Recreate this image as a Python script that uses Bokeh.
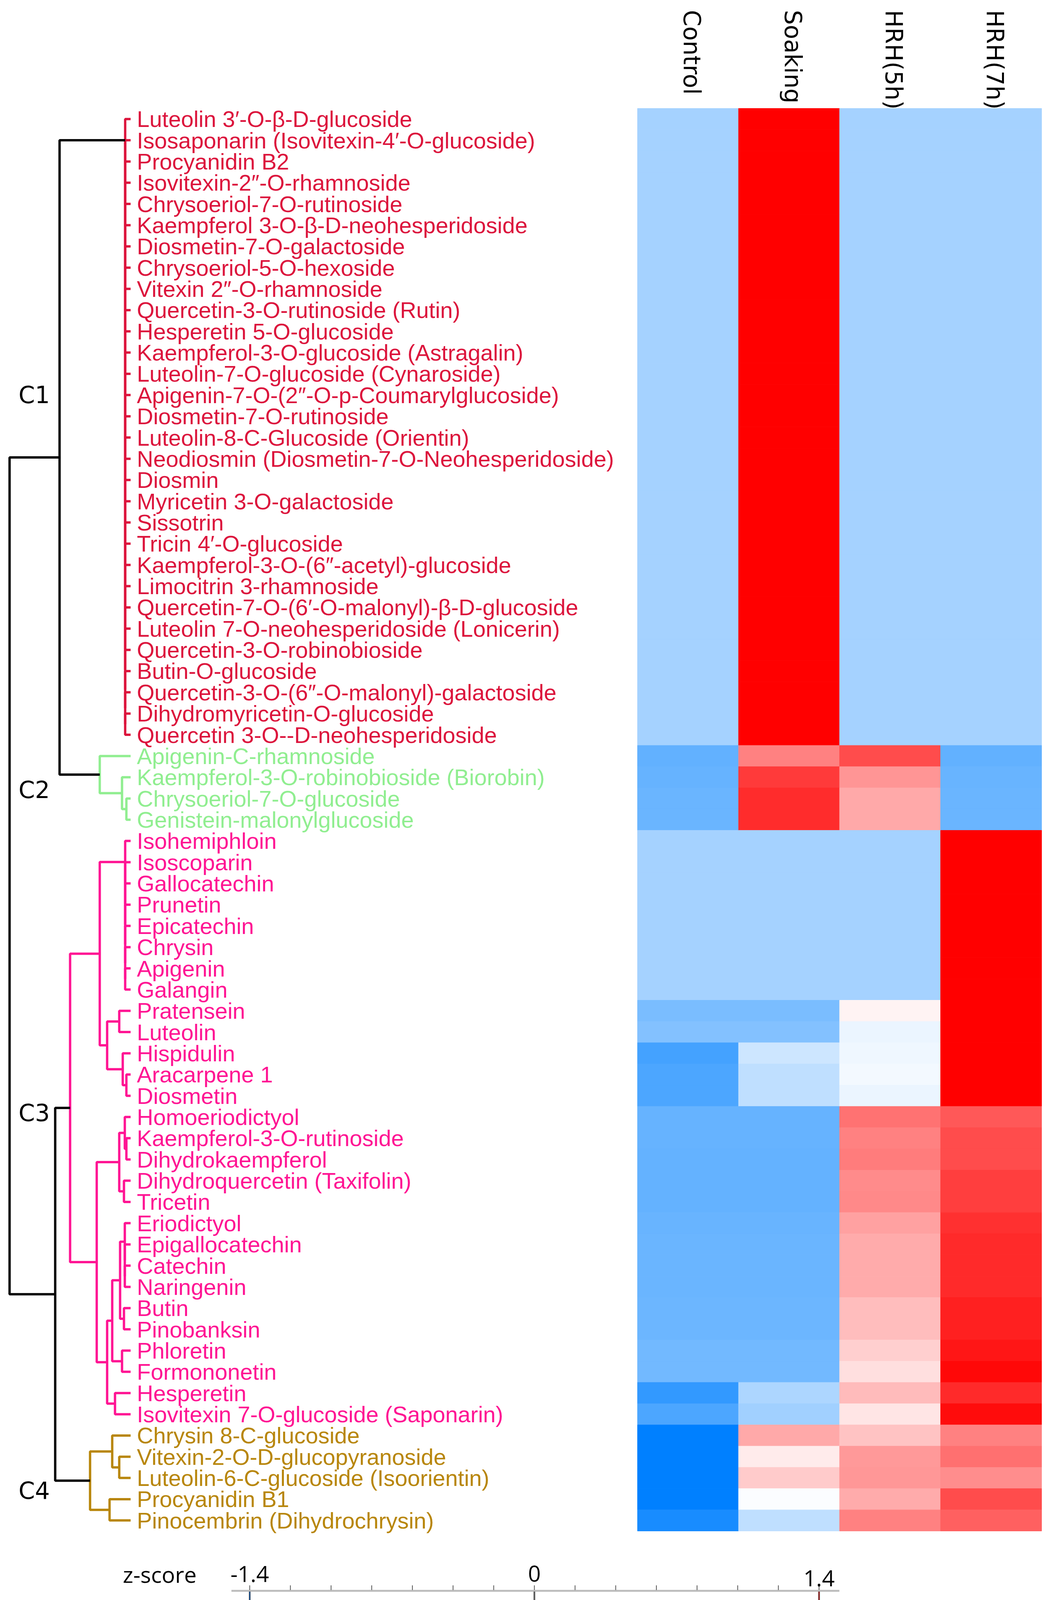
import numpy as np
from bokeh.plotting import figure
from bokeh.models import Range1d, ColumnDataSource, LinearColorMapper
from bokeh.transform import transform
from bokeh.core.properties import value
from bokeh.embed import file_html
from bokeh.resources import INLINE

# ---------------- data ----------------
samples = ["Control", "Soaking", "HRH(5h)", "HRH(7h)"]

compounds = [
    "Luteolin 3\u2032-O-\u03b2-D-glucoside",
    "Isosaponarin (Isovitexin-4\u2032-O-glucoside)",
    "Procyanidin B2",
    "Isovitexin-2\u2033-O-rhamnoside",
    "Chrysoeriol-7-O-rutinoside",
    "Kaempferol 3-O-\u03b2-D-neohesperidoside",
    "Diosmetin-7-O-galactoside",
    "Chrysoeriol-5-O-hexoside",
    "Vitexin 2\u2033-O-rhamnoside",
    "Quercetin-3-O-rutinoside (Rutin)",
    "Hesperetin 5-O-glucoside",
    "Kaempferol-3-O-glucoside (Astragalin)",
    "Luteolin-7-O-glucoside (Cynaroside)",
    "Apigenin-7-O-(2\u2033-O-p-Coumarylglucoside)",
    "Diosmetin-7-O-rutinoside",
    "Luteolin-8-C-Glucoside (Orientin)",
    "Neodiosmin (Diosmetin-7-O-Neohesperidoside)",
    "Diosmin",
    "Myricetin 3-O-galactoside",
    "Sissotrin",
    "Tricin 4\u2032-O-glucoside",
    "Kaempferol-3-O-(6\u2033-acetyl)-glucoside",
    "Limocitrin 3-rhamnoside",
    "Quercetin-7-O-(6\u2032-O-malonyl)-\u03b2-D-glucoside",
    "Luteolin 7-O-neohesperidoside (Lonicerin)",
    "Quercetin-3-O-robinobioside",
    "Butin-O-glucoside",
    "Quercetin-3-O-(6\u2033-O-malonyl)-galactoside",
    "Dihydromyricetin-O-glucoside",
    "Quercetin 3-O--D-neohesperidoside",
    "Apigenin-C-rhamnoside",
    "Kaempferol-3-O-robinobioside (Biorobin)",
    "Chrysoeriol-7-O-glucoside",
    "Genistein-malonylglucoside",
    "Isohemiphloin",
    "Isoscoparin",
    "Gallocatechin",
    "Prunetin",
    "Epicatechin",
    "Chrysin",
    "Apigenin",
    "Galangin",
    "Pratensein",
    "Luteolin",
    "Hispidulin",
    "Aracarpene 1",
    "Diosmetin",
    "Homoeriodictyol",
    "Kaempferol-3-O-rutinoside",
    "Dihydrokaempferol",
    "Dihydroquercetin (Taxifolin)",
    "Tricetin",
    "Eriodictyol",
    "Epigallocatechin",
    "Catechin",
    "Naringenin",
    "Butin",
    "Pinobanksin",
    "Phloretin",
    "Formononetin",
    "Hesperetin",
    "Isovitexin 7-O-glucoside (Saponarin)",
    "Chrysin 8-C-glucoside",
    "Vitexin-2-O-D-glucopyranoside",
    "Luteolin-6-C-glucoside (Isoorientin)",
    "Procyanidin B1",
    "Pinocembrin (Dihydrochrysin)",
]

row_cluster = ["C1"] * 30 + ["C2"] * 4 + ["C3"] * 28 + ["C4"] * 5

z_control = ([-0.50] * 30 +
             [-0.86, -0.84, -0.82, -0.82] +
             [-0.50] * 8 +
             [-0.73, -0.68, -1.02, -0.98, -0.98,
              -0.84, -0.84, -0.85, -0.85, -0.85, -0.83, -0.82, -0.82, -0.82,
              -0.80, -0.80, -0.77, -0.77, -1.12, -0.98] +
             [-1.51, -1.46, -1.49, -1.41, -1.26])
z_soaking = ([1.50] * 30 +
             [0.70, 1.08, 1.15, 1.15] +
             [-0.50] * 8 +
             [-0.73, -0.68, -0.28, -0.36, -0.36,
              -0.84, -0.84, -0.85, -0.85, -0.85, -0.83, -0.82, -0.82, -0.82,
              -0.80, -0.80, -0.77, -0.77, -0.45, -0.52] +
             [0.48, 0.12, 0.29, -0.03, -0.35])
z_hrh5 = ([-0.50] * 30 +
          [0.98, 0.59, 0.48, 0.48] +
          [-0.50] * 8 +
          [0.07, -0.12, -0.09, -0.07, -0.12,
           0.77, 0.70, 0.72, 0.64, 0.65, 0.52, 0.47, 0.47, 0.47,
           0.37, 0.37, 0.27, 0.18, 0.38, 0.15] +
          [0.33, 0.56, 0.57, 0.46, 0.70])
z_hrh7 = ([-0.50] * 30 +
          [-0.86, -0.83, -0.82, -0.82] +
          [1.50] * 8 +
          [1.39, 1.48, 1.39, 1.41, 1.46,
           0.91, 0.98, 0.98, 1.05, 1.05, 1.13, 1.17, 1.17, 1.17,
           1.22, 1.22, 1.27, 1.35, 1.17, 1.33] +
          [0.70, 0.78, 0.63, 0.98, 0.87])

# dendrogram merge heights (root = 1)
H_ROOT, H_C1C2, H_C3C4 = 1.0, 0.587, 0.623
cluster_names = ["C1", "C2", "C3", "C4"]
cluster_colors = ["#DC143C", "#90EE90", "#FF1493", "#B8860B"]

def N(h, a, b):
    return (h, a, b)

def chain(leaves, h):
    t = leaves[-1]
    for lf in reversed(leaves[:-1]):
        t = (h, lf, t)
    return t

cluster_trees = {
    "C1": chain(list(range(0, 30)), 0.045),
    "C2": N(0.255, 30, N(0.071, 31, N(0.035, 32, 33))),
    "C3": N(0.50,
            N(0.255,
              chain(list(range(34, 42)), 0.045),
              N(0.194, N(0.094, 42, 43), N(0.065, 44, N(0.035, 45, 46)))),
            N(0.28,
              N(0.094, N(0.048, 47, N(0.035, 48, 49)), N(0.055, 50, 51)),
              N(0.194,
                N(0.152,
                  N(0.087, chain([52, 53, 54, 55], 0.048), N(0.055, 56, 57)),
                  N(0.071, 58, 59)),
                N(0.129, 60, 61)))),
    "C4": N(0.335, N(0.152, 62, N(0.094, 63, 64)), N(0.174, 65, 66)),
}
top_tree = N(H_ROOT, N(H_C1C2, "C1", "C2"), N(H_C3C4, "C3", "C4"))

cb_ticks = [-1.4, -1.2, -1.0, -0.8, -0.6, -0.4, -0.2, 0.0,
            0.2, 0.4, 0.6, 0.8, 1.0, 1.2, 1.4]
cb_labels = ["-1.4", "0", "1.4"]
cb_label_vals = [-1.4, 0.0, 1.4]

# ---------------- layout constants (reference pixel space) ----------------
W, H = 2696, 4209
HM_LEFT, HM_RIGHT = 1640, 2675
HM_TOP, HM_BOTTOM = 285, 3927
NROW = len(compounds)
ROW_H = (HM_BOTTOM - HM_TOP) / NROW
COL_W = (HM_RIGHT - HM_LEFT) / len(samples)
LEAF_X = 342
DEND_SCALE = 310
LABEL_X = 358
HEADER_DX = 10

def row_y(i):
    return HM_TOP + (i + 0.5) * ROW_H

def col_x(j):
    return HM_LEFT + (j + 0.5) * COL_W

# colour map: blue -> white -> red
def lerp(c1, c2, t):
    return tuple(int(round(a + (b - a) * t)) for a, b in zip(c1, c2))

BLUE, WHITE, RED = (0, 128, 255), (255, 255, 255), (255, 0, 0)
palette = ["#%02x%02x%02x" % lerp(BLUE, WHITE, k / 127) for k in range(128)] + \
          ["#%02x%02x%02x" % lerp(WHITE, RED, k / 127) for k in range(128)]
mapper = LinearColorMapper(palette=palette, low=-1.4, high=1.4)

p = figure(width=W, height=H, x_range=Range1d(8, 8 + W), y_range=Range1d(8 + H, 8),
           output_backend="svg", toolbar_location=None,
           x_axis_location=None, y_axis_location=None, min_border=0,
           background_fill_color="white", border_fill_color="white")
p.outline_line_color = None
p.grid.grid_line_color = None

# ---------------- heatmap ----------------
zcols = [z_control, z_soaking, z_hrh5, z_hrh7]
hx, hy, hz = [], [], []
for j, zc in enumerate(zcols):
    for i, zv in enumerate(zc):
        hx.append(col_x(j)); hy.append(row_y(i)); hz.append(zv)
hsrc = ColumnDataSource(dict(x=hx, y=hy, z=hz))
p.rect(x="x", y="y", width=COL_W, height=ROW_H, source=hsrc,
       fill_color=transform("z", mapper), line_color=transform("z", mapper), line_width=1)

# column headers
p.text(x=[col_x(j) + HEADER_DX for j in range(len(samples))], y=[33] * len(samples), text=samples,
       angle=-np.pi / 2, text_align="left", text_baseline="middle",
       text_font=value("DejaVu Sans"), text_font_size="60px", text_color="#000000")

# ---------------- dendrogram ----------------
ccolor = dict(zip(cluster_names, cluster_colors))
seg_xs, seg_ys, seg_cols = [], [], []

def draw(node, color):
    if isinstance(node, str):
        return draw(cluster_trees[node], ccolor[node])
    if isinstance(node, int):
        return LEAF_X, row_y(node)
    h, a, b = node
    xa, ya = draw(a, color)
    xb, yb = draw(b, color)
    x = LEAF_X - h * DEND_SCALE
    seg_xs.append([xa, x, x, xb])
    seg_ys.append([ya, ya, yb, yb])
    seg_cols.append(color)
    return x, (ya + yb) / 2

draw(top_tree, "#000000")
p.multi_line(xs=seg_xs, ys=seg_ys, line_color=seg_cols, line_width=6)

# row labels
p.text(x=[LABEL_X] * NROW, y=[row_y(i) for i in range(NROW)], text=compounds,
       text_color=[ccolor[c] for c in row_cluster], text_align="left", text_baseline="middle",
       text_font=value("Liberation Sans"), text_font_size="58px")

# cluster labels
cl_rows = [13.5, 32.1, 47.3, 65.1]
p.text(x=[55] * 4, y=[HM_TOP + r * ROW_H for r in cl_rows], text=cluster_names,
       text_align="left", text_baseline="middle", text_color="#000000",
       text_font=value("DejaVu Sans"), text_font_size="60px")

# ---------------- colour key ----------------
CB_ZERO, CB_SCALE = 1376, 520.7
CB_LO, CB_HI = -1.49, 1.50

def cbx(v):
    return CB_ZERO + v * CB_SCALE

grad = np.linspace(CB_LO, CB_HI, 400)
step = (CB_HI - CB_LO) / 399
gsrc = ColumnDataSource(dict(x=[cbx(v) for v in grad], y=[4170] * len(grad), z=list(grad)))
p.rect(x="x", y="y", width=step * CB_SCALE + 1, height=26, source=gsrc,
       fill_color=transform("z", mapper), line_color=None)
p.segment(x0=[cbx(CB_LO)], x1=[cbx(CB_HI)], y0=[4157], y1=[4157], line_color="#7f7f7f", line_width=3)
p.segment(x0=[cbx(CB_LO)], x1=[cbx(CB_HI)], y0=[4184], y1=[4184], line_color="#c8c8c8", line_width=3)
p.segment(x0=[cbx(CB_LO)], x1=[cbx(CB_HI)], y0=[4080], y1=[4080], line_color="#bebebe", line_width=5)
p.segment(x0=[cbx(v) for v in cb_ticks], x1=[cbx(v) for v in cb_ticks],
          y0=[4066] * len(cb_ticks), y1=[4078] * len(cb_ticks), line_color="#555555", line_width=2)
p.segment(x0=[cbx(v) for v in cb_label_vals], x1=[cbx(v) for v in cb_label_vals],
          y0=[4082] * 3, y1=[4158] * 3, line_color="#333333", line_width=4)
p.segment(x0=[cbx(v) for v in cb_label_vals], x1=[cbx(v) for v in cb_label_vals],
          y0=[4082] * 3, y1=[4158] * 3, line_color=["#0060d0", "#777777", "#e00000"], line_width=1.5)
p.text(x=[cbx(v) for v in cb_label_vals], y=[4037, 4036, 4048], text=cb_labels,
       text_align="center", text_baseline="alphabetic", text_color="#000000",
       text_font=value("Open Sans"), text_font_size="57px")
p.text(x=[322], y=[4037], text=["z-score"], text_align="left", text_baseline="alphabetic",
       text_color="#000000", text_font=value("Open Sans"), text_font_size="57px")

open("out.html", "w").write(file_html(p, INLINE))
